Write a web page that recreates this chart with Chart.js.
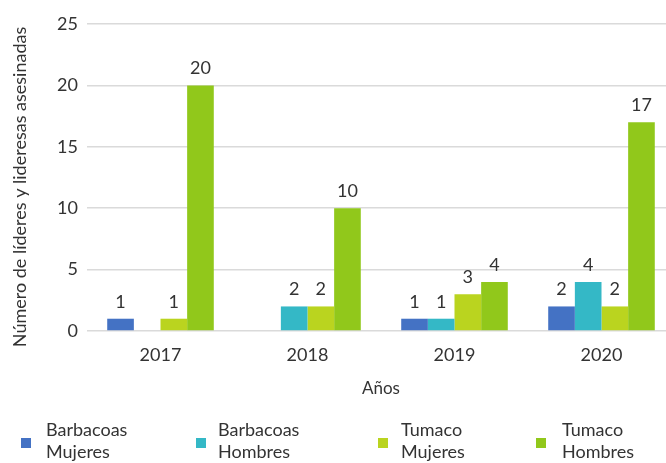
<!DOCTYPE html>
<html>
<head>
<meta charset="utf-8">
<script src="https://cdn.jsdelivr.net/npm/chart.js@4"></script>
<style>
  html, body { margin: 0; padding: 0; background: #fff; overflow: hidden; }
  #wrap { width: 666px; height: 463px; overflow: hidden; }
</style>
</head>
<body>
<div id="wrap"><canvas id="myChart" width="675" height="463"></canvas></div>
<script>
const years = ['2017', '2018', '2019', '2020'];
const barbacoasMujeres = [1, null, 1, 2];
const barbacoasHombres = [null, 2, 1, 4];
const tumacoMujeres = [1, 2, 3, 2];
const tumacoHombres = [20, 10, 4, 17];
const seriesNames = [['Barbacoas', 'Mujeres'], ['Barbacoas', 'Hombres'], ['Tumaco', 'Mujeres'], ['Tumaco', 'Hombres']];
const colors = ['#4472C4', '#34B8C6', '#BAD41F', '#91C81B'];
const yTitle = 'Número de líderes y lideresas asesinadas';

const textColor = '#333333';

// value labels above each bar
const barLabels = {
    id: 'barLabels',
    afterDatasetsDraw(chart) {
        const ctx = chart.ctx;
        ctx.save();
        ctx.font = '18px Lato';
        ctx.fillStyle = textColor;
        ctx.textAlign = 'center';
        ctx.textBaseline = 'middle';
        chart.data.datasets.forEach((ds, i) => {
            chart.getDatasetMeta(i).data.forEach((bar, j) => {
                if (ds.data[j] == null) return;
                ctx.fillText(ds.data[j], bar.x, bar.y - 17);
            });
        });
        ctx.restore();
    }
};

// y title (a bit lower than the axis centre) and two-line legend at the bottom
const extras = {
    id: 'extras',
    afterDraw(chart) {
        const ctx = chart.ctx;
        ctx.save();
        ctx.font = '18px Lato';
        ctx.fillStyle = textColor;
        ctx.translate(20, 187);
        ctx.rotate(-Math.PI / 2);
        ctx.textAlign = 'center';
        ctx.textBaseline = 'middle';
        ctx.fillText(yTitle, 0, 0);
        ctx.restore();

        const markerX = [21, 196, 378, 536];
        const textX = [46, 218, 401, 562];
        ctx.save();
        ctx.font = '18px Lato';
        ctx.textBaseline = 'middle';
        ctx.textAlign = 'left';
        seriesNames.forEach((name, i) => {
            ctx.fillStyle = colors[i];
            ctx.fillRect(markerX[i], 438, 10, 10);
            ctx.fillStyle = textColor;
            ctx.fillText(name[0], textX[i], 430);
            ctx.fillText(name[1], textX[i], 452);
        });
        ctx.restore();
    }
};

const data = {
    labels: years,
    datasets: [barbacoasMujeres, barbacoasHombres, tumacoMujeres, tumacoHombres].map((values, i) => ({
        label: seriesNames[i].join(' '),
        data: values,
        backgroundColor: colors[i],
        borderWidth: 0,
        barPercentage: 1,
        categoryPercentage: 0.725
    }))
};

const config = {
    type: 'bar',
    data: data,
    options: {
        responsive: false,
        animation: false,
        layout: { padding: { top: 24, bottom: 60, left: 0, right: 0 } },
        plugins: {
            legend: { display: false },
            tooltip: { enabled: false }
        },
        scales: {
            x: {
                grid: { display: false, drawTicks: false },
                border: { display: false },
                ticks: { color: textColor, font: { family: 'Lato', size: 18 }, padding: 13 },
                title: { display: true, text: 'Años', color: textColor, font: { family: 'Lato', size: 17 }, padding: { top: 14 } },
                afterFit(scale) { scale.height = 72; }
            },
            y: {
                min: 0,
                max: 25,
                ticks: { stepSize: 5, color: textColor, font: { family: 'Lato', size: 18 }, padding: 9 },
                grid: { color: '#dadada', lineWidth: 1.5, drawTicks: false },
                border: { display: false },
                afterFit(scale) { scale.width = 87; }
            }
        }
    },
    plugins: [barLabels, extras]
};

// Render the chart
const myChart = new Chart(document.getElementById('myChart'), config);
</script>
</body>
</html>
